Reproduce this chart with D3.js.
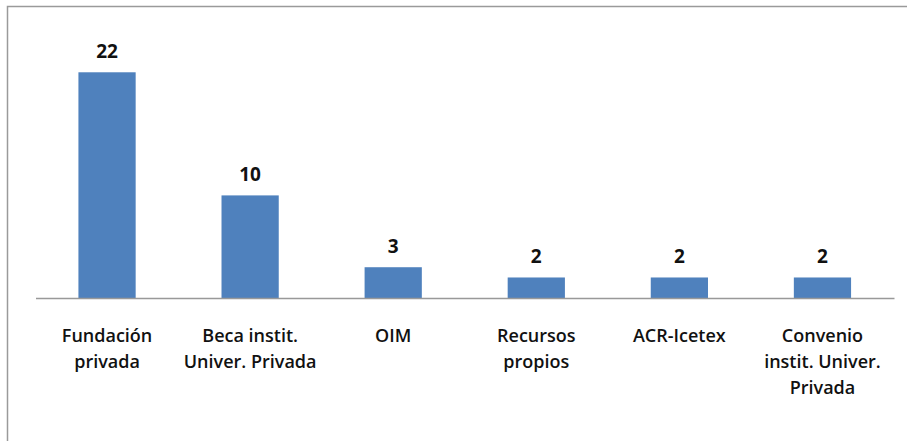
<!DOCTYPE html>
<html><head><meta charset="utf-8">
<script src="https://cdn.jsdelivr.net/npm/d3@7"></script>
<style>html,body{margin:0;padding:0;background:#fff;}svg{display:block;}</style>
</head><body>
<svg id="chart" width="907" height="441"></svg>
<script>
const categories = [
  ["Fundación","privada"],
  ["Beca instit.","Univer. Privada"],
  ["OIM"],
  ["Recursos","propios"],
  ["ACR-Icetex"],
  ["Convenio","instit. Univer.","Privada"]
];
const values = [22, 10, 3, 2, 2, 2];
const keys = categories.map(c => c.join(" "));

const svg = d3.select("#chart");
svg.append("rect").attr("x",7.5).attr("y",6.5).attr("width",910).attr("height",450)
  .attr("fill","#fff").attr("stroke","#9a9a9a").attr("stroke-width",1.5);

const base = 298;
const x = d3.scaleBand().domain(keys).range([35.5, 894]).paddingInner(0.6).paddingOuter(0.3);
const y = d3.scaleLinear().domain([0, 25]).range([base, base - 256.5]);

svg.selectAll("rect.bar").data(values).join("rect").attr("class","bar")
  .attr("x",(d,i)=>x(keys[i])).attr("width",x.bandwidth())
  .attr("y",d=>y(d)).attr("height",d=>y(0)-y(d)).attr("fill","#4F81BD");

const axis = svg.append("g").attr("transform",`translate(0,${base})`)
  .call(d3.axisBottom(x).tickSize(0).tickFormat(""));
axis.select(".domain").attr("stroke","#999").attr("stroke-width",1.5);

svg.selectAll("text.val").data(values).join("text").attr("class","val")
  .attr("x",(d,i)=>x(keys[i])+x.bandwidth()/2).attr("y",d=>y(d)-14)
  .attr("text-anchor","middle").attr("font-family","'Open Sans', sans-serif")
  .attr("font-weight",700).attr("font-size",19).attr("fill","#111").text(d=>d);

const lab = svg.selectAll("text.cat").data(categories).join("text").attr("class","cat")
  .attr("text-anchor","middle").attr("font-family","'Open Sans', sans-serif")
  .attr("font-weight",600).attr("font-size",18).attr("fill","#111");
lab.each(function(lines,i){
  const t = d3.select(this);
  lines.forEach((l,j)=>{
    t.append("tspan").attr("x",x(keys[i])+x.bandwidth()/2).attr("y",342+j*26).text(l);
  });
});
</script>
</body></html>
